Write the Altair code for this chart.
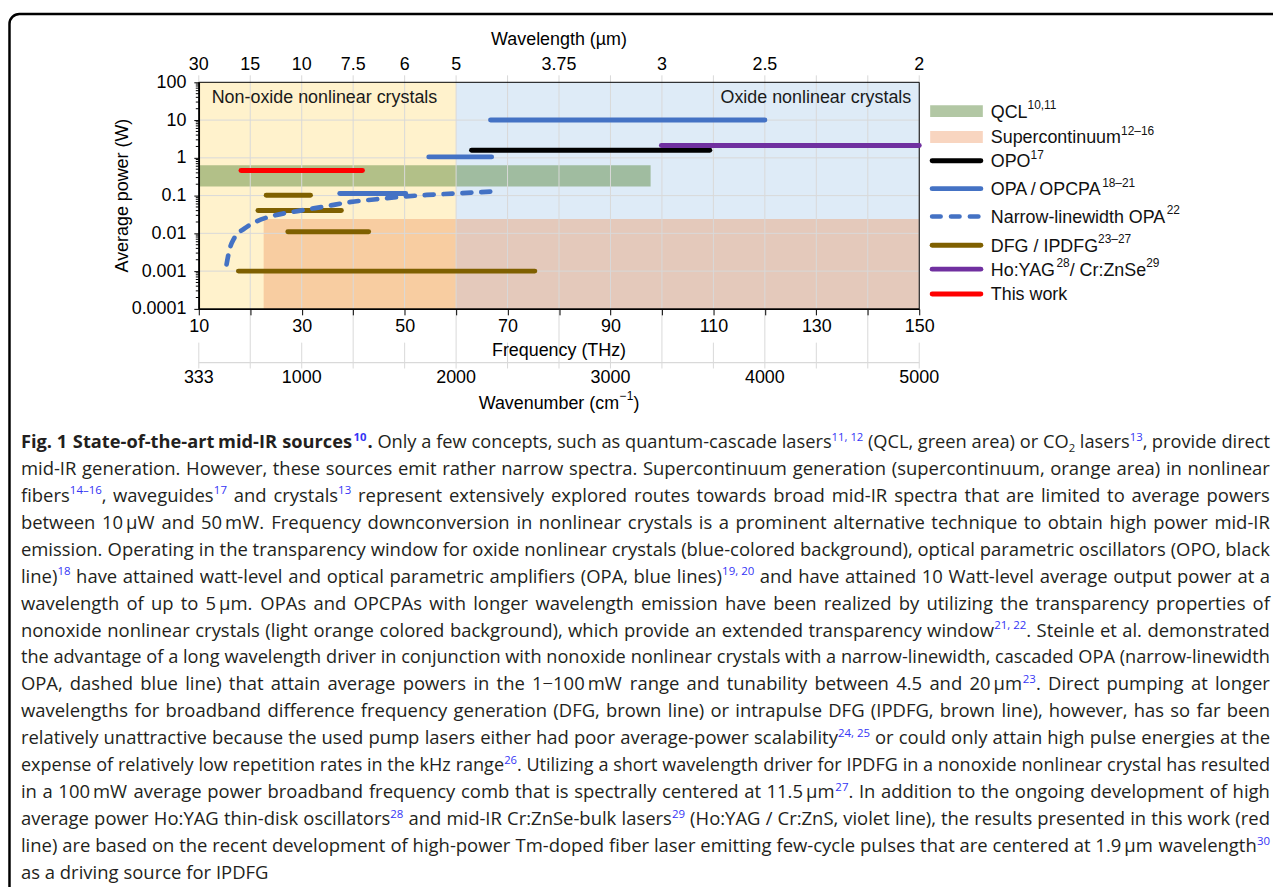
import re
import altair as alt
import pandas as pd

# ---------------- chart values ----------------
freq_grid = [10, 20, 30, 40, 50, 60, 70, 80, 90, 100, 110, 120, 130, 140, 150]
freq_labeled = [10, 30, 50, 70, 90, 110, 130, 150]
wl_pos = [10, 20, 30, 40, 50, 60, 80, 100, 120, 150]
wl_text = ["30", "15", "10", "7.5", "6", "5", "3.75", "3", "2.5", "2"]
wn_pos = [10, 30, 60, 90, 120, 150]
wn_text = ["333", "1000", "2000", "3000", "4000", "5000"]
power_decades = [0.0001, 0.001, 0.01, 0.1, 1, 10, 100]

crystal_x1 = [10, 60]
crystal_x2 = [60, 150]
crystal_color = ["#FFF2CC", "#DEEBF7"]

band_name = ["QCL", "Supercontinuum"]
band_x1 = [10, 22.6]
band_x2 = [97.8, 150]
band_y1 = [0.173, 0.0001]
band_y2 = [0.64, 0.024]
band_color = ["#548235", "#EE9662"]
band_opacity = [0.45, 0.4]

seg_series = ["OPA", "OPA", "OPA", "OPO", "Ho:YAG", "DFG", "DFG", "DFG", "DFG", "This work"]
seg_x1 = [66.7, 54.7, 37.4, 63.0, 99.9, 23.1, 21.5, 27.3, 17.7, 18.2]
seg_x2 = [120.0, 66.9, 50.2, 109.3, 150.0, 31.7, 37.7, 43.0, 75.3, 41.8]
seg_power = [10, 1.06, 0.113, 1.59, 2.11, 0.102, 0.0403, 0.0111, 0.001, 0.464]

nl_freq = [15.4, 15.9, 16.9, 18.9, 21.3, 24.8, 29.7, 34.7, 39.6, 44.5, 49.4, 54.3, 59.3, 66.9]
nl_power = [0.0015, 0.0034, 0.0075, 0.0135, 0.021, 0.030, 0.040, 0.052, 0.068, 0.080, 0.093, 0.104, 0.113, 0.128]

series_color = {"OPO": "#000000", "OPA": "#4472C4", "DFG": "#7F6000",
                "Ho:YAG": "#7030A0", "This work": "#FF0000"}

legend_markup = ["QCL^{10,11}", "Supercontinuum^{12–16}", "OPO^{17}",
                 "OPA\u2009/\u2009OPCPA^{18–21}", "Narrow-linewidth OPA^{22}",
                 "DFG / IPDFG^{23–27}", "Ho:YAG^{28}/ Cr:ZnSe^{29}", "This work"]
legend_kind = ["rect", "rect", "line", "line", "dash", "line", "line", "line"]
legend_color = ["#548235", "#EE9662", "#000000", "#4472C4", "#4472C4",
                "#7F6000", "#7030A0", "#FF0000"]
legend_opacity = [0.45, 0.4, 1, 1, 1, 1, 1, 1]

caption_lines = [
    "**Fig. 1 State-of-the-art mid-IR sources^{10}.** Only a few concepts, such as quantum-cascade lasers^{11, 12} (QCL, green area) or CO_{2} lasers^{13}, provide direct",
    "mid-IR generation. However, these sources emit rather narrow spectra. Supercontinuum generation (supercontinuum, orange area) in nonlinear",
    "fibers^{14–16}, waveguides^{17} and crystals^{13} represent extensively explored routes towards broad mid-IR spectra that are limited to average powers",
    "between 10\u2009µW and 50\u2009mW. Frequency downconversion in nonlinear crystals is a prominent alternative technique to obtain high power mid-IR",
    "emission. Operating in the transparency window for oxide nonlinear crystals (blue-colored background), optical parametric oscillators (OPO, black",
    "line)^{18} have attained watt-level and optical parametric amplifiers (OPA, blue lines)^{19, 20} and have attained 10 Watt-level average output power at a",
    "wavelength of up to 5\u2009µm. OPAs and OPCPAs with longer wavelength emission have been realized by utilizing the transparency properties of",
    "nonoxide nonlinear crystals (light orange colored background), which provide an extended transparency window^{21, 22}. Steinle et al. demonstrated",
    "the advantage of a long wavelength driver in conjunction with nonoxide nonlinear crystals with a narrow-linewidth, cascaded OPA (narrow-linewidth",
    "OPA, dashed blue line) that attain average powers in the 1−100\u2009mW range and tunability between 4.5 and 20\u2009µm^{23}. Direct pumping at longer",
    "wavelengths for broadband difference frequency generation (DFG, brown line) or intrapulse DFG (IPDFG, brown line), however, has so far been",
    "relatively unattractive because the used pump lasers either had poor average-power scalability^{24, 25} or could only attain high pulse energies at the",
    "expense of relatively low repetition rates in the kHz range^{26}. Utilizing a short wavelength driver for IPDFG in a nonoxide nonlinear crystal has resulted",
    "in a 100\u2009mW average power broadband frequency comb that is spectrally centered at 11.5\u2009µm^{27}. In addition to the ongoing development of high",
    "average power Ho:YAG thin-disk oscillators^{28} and mid-IR Cr:ZnSe-bulk lasers^{29} (Ho:YAG / Cr:ZnS, violet line), the results presented in this work (red",
    "line) are based on the recent development of high-power Tm-doped fiber laser emitting few-cycle pulses that are centered at 1.9\u2009µm wavelength^{30}",
    "as a driving source for IPDFG",
]

# ---------------- font metrics for text layout ----------------
OS_W = {' ': 532, '!': 547, '(': 606, ')': 606, ',': 502, '-': 659, '.': 545, '/': 752,
        ':': 545, ';': 545, 'µ': 1266, '−': 1171, '–': 1024, '\u2009': 410,
        'A': 1296, 'B': 1327, 'C': 1292, 'D': 1493, 'E': 1139, 'F': 1057, 'G': 1491,
        'H': 1511, 'I': 571, 'J': 547, 'K': 1257, 'L': 1063, 'M': 1849, 'N': 1544,
        'O': 1595, 'P': 1233, 'Q': 1595, 'R': 1266, 'S': 1124, 'T': 1133, 'U': 1491,
        'V': 1219, 'W': 1896, 'X': 1182, 'Y': 1147, 'Z': 1169,
        'a': 1139, 'b': 1255, 'c': 975, 'd': 1255, 'e': 1149, 'f': 694, 'g': 1122,
        'h': 1257, 'i': 518, 'j': 518, 'k': 1075, 'l': 518, 'm': 1905, 'n': 1257,
        'o': 1237, 'p': 1255, 'q': 1255, 'r': 836, 's': 977, 't': 723, 'u': 1257,
        'v': 1026, 'w': 1593, 'x': 1073, 'y': 1028, 'z': 977}
for _d in "0123456789":
    OS_W[_d] = 1171
AR_W = {' ': 278, '(': 333, ')': 333, ',': 278, '-': 333, '.': 278, '/': 278, ':': 278,
        'µ': 576, '–': 556, '−': 584, '\u2009': 167,
        'A': 667, 'B': 667, 'C': 722, 'D': 722, 'E': 667, 'F': 611, 'G': 778, 'H': 722,
        'I': 278, 'J': 500, 'K': 667, 'L': 556, 'M': 833, 'N': 722, 'O': 778, 'P': 667,
        'Q': 778, 'R': 722, 'S': 667, 'T': 611, 'U': 722, 'V': 667, 'W': 944, 'X': 667,
        'Y': 667, 'Z': 611, 'a': 556, 'b': 556, 'c': 500, 'd': 556, 'e': 556, 'f': 278,
        'g': 556, 'h': 556, 'i': 222, 'j': 222, 'k': 500, 'l': 222, 'm': 833, 'n': 556,
        'o': 556, 'p': 556, 'q': 556, 'r': 333, 's': 500, 't': 278, 'u': 556, 'v': 500,
        'w': 722, 'x': 500, 'y': 500, 'z': 500}
for _d in "0123456789":
    AR_W[_d] = 556


def w_os(s):
    return sum(OS_W.get(c, 1100) for c in s) / 2048.0


def w_ar(s):
    return sum(AR_W.get(c, 556) for c in s) / 1000.0


TOKEN = re.compile(r"(\*\*|\^\{[^}]*\}|_\{[^}]*\})")
SMALL = 0.62
BOLD_F = 1.08


def parse_runs(markup):
    runs, bold = [], False
    for part in TOKEN.split(markup):
        if not part:
            continue
        if part == "**":
            bold = not bold
        elif part.startswith("^{"):
            runs.append((part[2:-1], "supb" if bold else "sup"))
        elif part.startswith("_{"):
            runs.append((part[2:-1], "sub"))
        else:
            runs.append((part, "bold" if bold else "norm"))
    return runs


def split_groups(runs):
    groups = [[]]
    for text, st in runs:
        if st in ("norm", "bold"):
            for k, piece in enumerate(text.split(" ")):
                if k > 0:
                    groups.append([])
                if piece:
                    groups[-1].append((piece, st))
        else:
            groups[-1].append((text, st))
    return [g for g in groups if g]


def run_em(text, st, wfun):
    base = wfun(text)
    if st == "bold":
        return base * BOLD_F
    if st == "supb":
        return base * SMALL * BOLD_F
    if st in ("sup", "sub"):
        return base * SMALL
    return base


# ---------------- caption layout (justified) ----------------
CAP_X0, CAP_W = -179.0, 1257.0
CAP_Y0, CAP_DY = 368.0, 27.1
SUP_BLUE = "#3535F5"
TXT = "#231f20"
space_em = w_os(" ")
cap_info = []
for line in caption_lines:
    groups = split_groups(parse_runs(line))
    gw = [sum(run_em(t, s, w_os) for t, s in g) for g in groups]
    nat = sum(gw) + space_em * (len(groups) - 1)
    cap_info.append((groups, gw, nat))
ratios = sorted(CAP_W / nat for _, _, nat in cap_info[:-1])
S0 = ratios[3]

cap_rows = []
for i, (groups, gw, nat) in enumerate(cap_info):
    last = i == len(cap_info) - 1
    S = S0 if last else min(S0, CAP_W / nat)
    gap = space_em * S if last else (CAP_W - sum(gw) * S) / (len(groups) - 1)
    base = CAP_Y0 + CAP_DY * i
    x = CAP_X0
    for g, w in zip(groups, gw):
        xx = x
        for t, st in g:
            if st in ("sup", "supb"):
                yy, fs, col = base - 0.40 * S, S * SMALL, SUP_BLUE
            elif st == "sub":
                yy, fs, col = base + 0.22 * S, S * SMALL, TXT
            else:
                yy, fs, col = base, S, TXT
            cap_rows.append(dict(text=t, x=xx, y=yy, size=fs, color=col,
                                 bold=st in ("bold", "supb")))
            xx += run_em(t, st, w_os) * S
        x += w * S + gap
cap_df = pd.DataFrame(cap_rows)

# ---------------- legend layout ----------------
LEG_Y = [29, 55, 79, 107, 135, 164, 188, 213]
LEG_TX = 797.0
LFS = 18.0
leg_text_rows = []
for markup, yc in zip(legend_markup, LEG_Y):
    xx = LEG_TX
    for t, st in parse_runs(markup):
        if st == "sup":
            leg_text_rows.append(dict(text=t, x=xx, y=yc + 6.5 - 8.5, size=12.0))
            xx += w_ar(t) * 12.0
        else:
            leg_text_rows.append(dict(text=t, x=xx, y=yc + 6.5, size=LFS))
            xx += w_ar(t) * LFS
leg_text_df = pd.DataFrame(leg_text_rows)
leg_sym = pd.DataFrame(dict(kind=legend_kind, color=legend_color, op=legend_opacity, y=LEG_Y))
leg_sym["y1"] = leg_sym["y"] - 6
leg_sym["y2"] = leg_sym["y"] + 6

# wavenumber title with superscript
wn_runs = [("Wavenumber (cm", "norm"), ("−1", "sup"), (")", "norm")]
wn_total = sum(w_ar(t) * (12.0 if s == "sup" else LFS) for t, s in wn_runs)
xx = 362.5 - wn_total / 2
wn_title_rows = []
for t, s in wn_runs:
    if s == "sup":
        wn_title_rows.append(dict(text=t, x=xx, y=322 + 6.5 - 8.5, size=12.0))
        xx += w_ar(t) * 12.0
    else:
        wn_title_rows.append(dict(text=t, x=xx, y=322 + 6.5, size=LFS))
        xx += w_ar(t) * LFS
wn_title_df = pd.DataFrame(wn_title_rows)

# ---------------- scales ----------------
XS = alt.Scale(domain=[10, 150], nice=False, zero=False)
YS = alt.Scale(type="log", domain=[0.0001, 100], nice=False)
FONT = "Liberation Sans"
GRID = "#d9d9d9"

crystal_df = pd.DataFrame(dict(x1=crystal_x1, x2=crystal_x2, color=crystal_color))
band_df = pd.DataFrame(dict(name=band_name, x1=band_x1, x2=band_x2, y1=band_y1, y2=band_y2,
                            color=band_color, op=band_opacity))
seg_df = pd.DataFrame(dict(series=seg_series, x1=seg_x1, x2=seg_x2, p=seg_power))
seg_df["color"] = seg_df["series"].map(series_color)
nl_df = pd.DataFrame(dict(f=nl_freq, p=nl_power))

grid_rows = []
for f in freq_grid:
    grid_rows.append(dict(f=f, y1=-7, y2=0))
    grid_rows.append(dict(f=f, y1=0, y2=228))
    grid_rows.append(dict(f=f, y1=262 if f in freq_labeled else 228, y2=288))
grid_df = pd.DataFrame(grid_rows)
hgrid_df = pd.DataFrame(dict(p=power_decades[1:-1]))
minor_df = pd.DataFrame(dict(p=[k * d for d in power_decades[:-1] for k in range(2, 10)]))

one = pd.DataFrame(dict(a=[0]))

# ---------------- layers ----------------
bg = alt.Chart(crystal_df).mark_rect().encode(
    x=alt.X("x1:Q", scale=XS, axis=alt.Axis(
        orient="bottom", values=freq_grid, title=None, grid=False,
        labelExpr="datum.value % 20 == 10 ? datum.label : ''",
        tickSize=6, tickColor="black", domainColor="black", domainWidth=1.5,
        labelFont=FONT, labelFontSize=18, labelColor="black", labelPadding=3,
        labelFlush=False, labelOverlap=False, zindex=1)),
    x2="x2:Q",
    y=alt.value(0), y2=alt.value(228),
    color=alt.Color("color:N", scale=None, legend=None),
)

bands = alt.Chart(band_df).mark_rect().encode(
    x=alt.X("x1:Q", scale=XS, axis=None), x2="x2:Q",
    y=alt.Y("y1:Q", scale=YS, axis=alt.Axis(
        orient="left", values=power_decades, format="~g", title=None, grid=False,
        tickSize=5, tickColor="black", domainColor="black", domainWidth=1.5,
        labelFont=FONT, labelFontSize=18, labelColor="black", labelPadding=8,
        labelFlush=False, labelOverlap=False, zindex=1)),
    y2="y2:Q",
    color=alt.Color("color:N", scale=None, legend=None),
    opacity=alt.Opacity("op:Q", scale=None, legend=None),
)

vgrid = alt.Chart(grid_df).mark_rule(color=GRID, strokeWidth=1).encode(
    x=alt.X("f:Q", scale=XS, axis=None),
    y=alt.Y("y1:Q", scale=None, axis=None), y2="y2:Q",
)
hgrid = alt.Chart(hgrid_df).mark_rule(color=GRID, strokeWidth=1).encode(
    y=alt.Y("p:Q", scale=YS, axis=None), x=alt.value(0), x2=alt.value(725),
)
frame = alt.Chart(one).mark_rect(fillOpacity=0, stroke="black", strokeWidth=1).encode(
    x=alt.value(0), x2=alt.value(725), y=alt.value(0), y2=alt.value(228))

region_df = pd.DataFrame(dict(text=["Non-oxide nonlinear crystals"], x=[13.0], y=[16.0]))
region_df2 = pd.DataFrame(dict(text=["Oxide nonlinear crystals"], x=[717.0], y=[16.0]))
reg1 = alt.Chart(region_df).mark_text(align="left", baseline="middle", font=FONT,
                                      fontSize=18, color="#1a1a1a").encode(
    x=alt.X("x:Q", scale=None, axis=None), y=alt.Y("y:Q", scale=None, axis=None), text="text:N")
reg2 = alt.Chart(region_df2).mark_text(align="right", baseline="middle", font=FONT,
                                       fontSize=18, color="#1a1a1a").encode(
    x=alt.X("x:Q", scale=None, axis=None), y=alt.Y("y:Q", scale=None, axis=None), text="text:N")

segs = alt.Chart(seg_df).mark_rule(strokeWidth=5, strokeCap="round").encode(
    x=alt.X("x1:Q", scale=XS, axis=None), x2="x2:Q",
    y=alt.Y("p:Q", scale=YS, axis=None),
    color=alt.Color("color:N", scale=None, legend=None),
)
nl = alt.Chart(nl_df).mark_line(color="#4472C4", strokeWidth=4.7, strokeDash=[9, 10],
                                strokeCap="round", interpolate="monotone").encode(
    x=alt.X("f:Q", scale=XS, axis=None), y=alt.Y("p:Q", scale=YS, axis=None),
)

minor = alt.Chart(minor_df).mark_rule(color="black", strokeWidth=1).encode(
    y=alt.Y("p:Q", scale=YS, axis=None), x=alt.value(-3), x2=alt.value(0))

top_df = pd.DataFrame(dict(f=wl_pos, text=wl_text))
top_lab = alt.Chart(top_df).mark_text(baseline="middle", font=FONT, fontSize=18,
                                      color="black").encode(
    x=alt.X("f:Q", scale=XS, axis=None), y=alt.value(-17), text="text:N")

titles_df = pd.DataFrame(dict(text=["Wavelength (µm)", "Frequency (THz)"],
                              x=[362.5, 362.5], y=[-43.0, 270.0]))
titles = alt.Chart(titles_df).mark_text(baseline="middle", font=FONT, fontSize=18,
                                        color="black").encode(
    x=alt.X("x:Q", scale=None, axis=None), y=alt.Y("y:Q", scale=None, axis=None), text="text:N")
ytitle = alt.Chart(pd.DataFrame(dict(text=["Average power (W)"]))).mark_text(
    baseline="middle", font=FONT, fontSize=18, color="black", angle=270).encode(
    x=alt.value(-76), y=alt.value(114), text="text:N")

wn_line = alt.Chart(pd.DataFrame(dict(a=[10], b=[150]))).mark_rule(color=GRID, strokeWidth=1.2).encode(
    x=alt.X("a:Q", scale=XS, axis=None), x2="b:Q", y=alt.value(282))
wn_df = pd.DataFrame(dict(f=wn_pos, text=wn_text))
wn_lab = alt.Chart(wn_df).mark_text(baseline="middle", font=FONT, fontSize=18,
                                    color="black").encode(
    x=alt.X("f:Q", scale=XS, axis=None), y=alt.value(298), text="text:N")
wn_title = alt.Chart(wn_title_df).mark_text(align="left", baseline="alphabetic", font=FONT,
                                            color="black").encode(
    x=alt.X("x:Q", scale=None, axis=None), y=alt.Y("y:Q", scale=None, axis=None),
    text="text:N", size=alt.Size("size:Q", scale=None, legend=None))

leg_rect = alt.Chart(leg_sym[leg_sym.kind == "rect"]).mark_rect().encode(
    x=alt.value(736), x2=alt.value(789),
    y=alt.Y("y1:Q", scale=None, axis=None), y2="y2:Q",
    color=alt.Color("color:N", scale=None, legend=None),
    opacity=alt.Opacity("op:Q", scale=None, legend=None))
leg_line = alt.Chart(leg_sym[leg_sym.kind == "line"]).mark_rule(strokeWidth=5, strokeCap="round").encode(
    x=alt.value(738), x2=alt.value(787), y=alt.Y("y:Q", scale=None, axis=None),
    color=alt.Color("color:N", scale=None, legend=None))
leg_dash = alt.Chart(leg_sym[leg_sym.kind == "dash"]).mark_rule(
    strokeWidth=4.7, strokeCap="round", strokeDash=[8.5, 10.5]).encode(
    x=alt.value(738), x2=alt.value(790), y=alt.Y("y:Q", scale=None, axis=None),
    color=alt.Color("color:N", scale=None, legend=None))
leg_text = alt.Chart(leg_text_df).mark_text(align="left", baseline="alphabetic", font=FONT,
                                            color="#111111").encode(
    x=alt.X("x:Q", scale=None, axis=None), y=alt.Y("y:Q", scale=None, axis=None),
    text="text:N", size=alt.Size("size:Q", scale=None, legend=None))

cap_norm = alt.Chart(cap_df[~cap_df.bold]).mark_text(
    align="left", baseline="alphabetic", font="Open Sans").encode(
    x=alt.X("x:Q", scale=None, axis=None), y=alt.Y("y:Q", scale=None, axis=None),
    text="text:N", size=alt.Size("size:Q", scale=None, legend=None),
    color=alt.Color("color:N", scale=None, legend=None))
cap_bold = alt.Chart(cap_df[cap_df.bold]).mark_text(
    align="left", baseline="alphabetic", font="Open Sans", fontWeight="bold").encode(
    x=alt.X("x:Q", scale=None, axis=None), y=alt.Y("y:Q", scale=None, axis=None),
    text="text:N", size=alt.Size("size:Q", scale=None, legend=None),
    color=alt.Color("color:N", scale=None, legend=None))

border = alt.Chart(one).mark_rect(fillOpacity=0, stroke="black", strokeWidth=2.5,
                                  cornerRadius=10).encode(
    x=alt.value(-190.5), x2=alt.value(1300), y=alt.value(-68.7), y2=alt.value(1000))

chart = alt.layer(
    bg, bands, vgrid, hgrid, frame, reg1, reg2, segs, nl, minor,
    top_lab, titles, ytitle, wn_line, wn_lab, wn_title,
    leg_rect, leg_line, leg_dash, leg_text, cap_norm, cap_bold, border,
).resolve_scale(
    x="independent", y="independent", color="independent",
    opacity="independent", size="independent",
).properties(
    width=725, height=228,
    autosize=alt.AutoSizeParams(type="none"),
    padding={"left": 192, "top": 72, "right": 356, "bottom": 579},
    background="white",
).configure_view(stroke=None)

chart.save("out.html", embed_options={"renderer": "svg", "actions": False})
